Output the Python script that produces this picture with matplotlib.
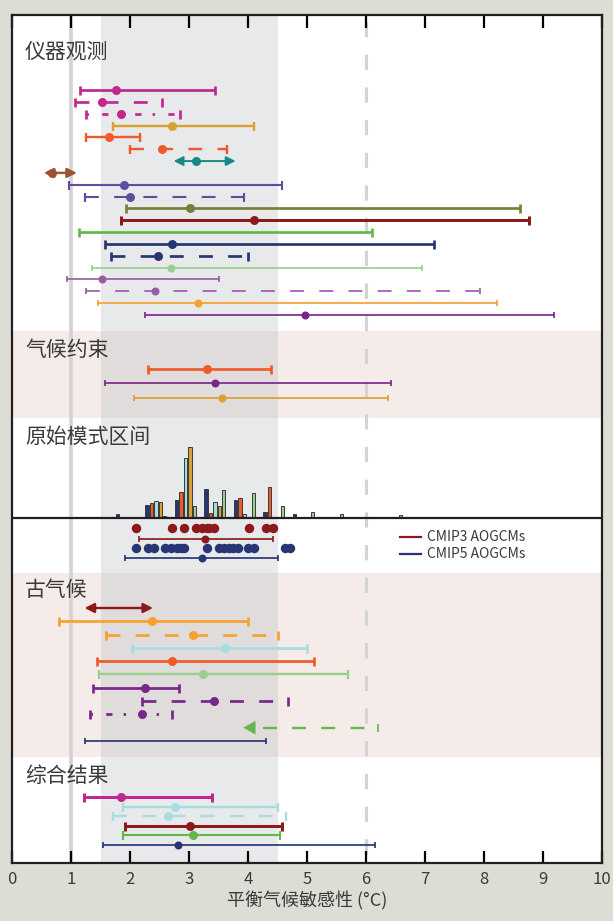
import numpy as np
import matplotlib.pyplot as plt

plt.rcParams['font.family'] = ['Noto Sans CJK SC', 'DejaVu Sans']

nan = np.nan

# 仪器观测
obs_lo   = [1.16, 1.06, 1.25, 1.72, 1.25, 2.00, 2.74, 0.54, 0.96, 1.24, 1.93, 1.84, 1.14, 1.57, 1.68, 1.36, 0.94, 1.25, 1.45, 2.25]
obs_best = [1.77, 1.53, 1.85, 2.71, 1.65, 2.54, 3.12, 0.68, 1.90, 2.00, 3.02, 4.10, nan,  2.72, 2.47, 2.69, 1.53, 2.42, 3.16, 4.97]
obs_hi   = [3.44, 2.54, 2.84, 4.10, 2.17, 3.64, 3.79, 1.10, 4.57, 3.93, 8.61, 8.76, 6.10, 7.16, 4.00, 6.95, 3.51, 7.93, 8.22, 9.19]

# 气候约束
cons_lo   = [2.30, 1.57, 2.06]
cons_best = [3.30, 3.44, 3.56]
cons_hi   = [4.39, 6.43, 6.38]

# 原始模式区间 (histogram, relative frequency)
hist_bins = [1.5, 2.0, 2.5, 3.0, 3.5, 4.0, 4.5, 5.0, 5.5, 6.0, 6.5, 7.0, 7.5, 8.0, 8.5]
hist_a = [0.8, 4.4, 13, 18.4, 29, 17.7, 6, 4, 1, 1, 0.6, 0.8, 1, 1, 0]
hist_b = [0, 0, 15.4, 25.7, 5, 20.4, 31, 0, 0, 0, 0, 0, 0, 0, 0]
hist_c = [0, 0.8, 17, 60, 16.4, 4.4, 0, 0, 0, 0, 0, 0, 0, 0, 0]
hist_d = [0, 0, 15.7, 71, 12, 0, 0, 0, 0, 0, 0, 0, 0, 0, 0]
hist_e = [0, 0, 2, 11.7, 27.7, 25.4, 12.4, 6, 4.4, 1.3, 2.7, 1, 1, 0, 1]

# CMIP3 / CMIP5 模式
cmip3_ecs = [2.11, 2.71, 2.92, 3.12, 3.22, 3.30, 3.34, 3.42, 4.02, 4.31, 4.42]
cmip3_range = [2.16, 3.27, 4.42]
cmip5_ecs = [2.11, 2.31, 2.41, 2.60, 2.69, 2.79, 2.86, 2.92, 3.31, 3.51, 3.60,
             3.68, 3.75, 3.83, 4.00, 4.11, 4.62, 4.71]
cmip5_range = [1.92, 3.22, 4.51]

# 古气候
paleo_lo   = [1.23, 0.79, 1.59, 2.03, 1.44, 1.47, 1.37, 2.21, 1.33, 3.92, 1.23]
paleo_best = [nan,  2.37, 3.06, 3.61, 2.71, 3.24, 2.26, 3.42, 2.20, nan,  nan]
paleo_hi   = [2.39, 4.00, 4.51, 5.00, 5.12, 5.69, 2.83, 4.67, 2.72, 6.20, 4.31]

# 综合结果
comb_lo   = [1.22, 1.88, 1.72, 1.91, 1.88, 1.55]
comb_best = [1.85, 2.77, 2.65, 3.02, 3.06, 2.82]
comb_hi   = [3.39, 4.51, 4.65, 4.57, 4.55, 6.16]

# colours
MAG = '#c4268f'
GOLD = '#d9a033'
ORED = '#f05a28'
TEAL = '#168a87'
BROWN = '#9c5233'
SLATE = '#5d4e9e'
OLIVE = '#7a7e35'
DRED = '#8c1a1c'
GREEN = '#62b84b'
NAVY = '#263574'
LGREEN = '#97cf8c'
LPURP = '#9b5aa5'
ORANGE = '#f8a12f'
PURP = '#78268a'
LBLUE = '#a6dde0'
TXT = '#3a3a3a'

obs_col = [MAG, MAG, MAG, GOLD, ORED, ORED, TEAL, BROWN, SLATE, SLATE, OLIVE, DRED,
           GREEN, NAVY, NAVY, LGREEN, LPURP, LPURP, ORANGE, PURP]
obs_sty = ['-', 'dash', 'dashdot', '-', '-', 'dash', 'both', 'both', '-', 'dash', '-', '-',
           '-', '-', 'dash', '-', '-', 'dash', '-', '-']
obs_lw = [2.7, 2.7, 2.7, 2.4, 2.4, 2.4, 2.4, 3.0, 2.1, 2.1, 2.7, 3.0,
          2.7, 2.7, 2.7, 1.7, 1.7, 1.7, 1.7, 1.7]

cons_col = [ORED, PURP, GOLD]
cons_sty = ['-', '-', '-']
cons_lw = [2.7, 1.7, 1.7]

paleo_col = [DRED, ORANGE, ORANGE, LBLUE, ORED, LGREEN, PURP, PURP, PURP, GREEN, NAVY]
paleo_sty = ['both', '-', 'dash', '-', '-', '-', '-', 'dash', 'dashdot', 'left', '-']
paleo_lw = [3.0, 2.7, 2.7, 2.7, 2.7, 2.4, 2.7, 2.7, 2.7, 2.4, 1.7]

comb_col = [MAG, LBLUE, LBLUE, DRED, GREEN, NAVY]
comb_sty = ['-', '-', 'dash', '-', '-', '-']
comb_lw = [3.0, 2.4, 2.4, 3.0, 2.1, 1.7]

fig = plt.figure(figsize=(6.13, 9.21), dpi=100)
fig.patch.set_facecolor('#dcded6')
ax = fig.add_axes([12 / 613, 1 - 863 / 921, 590 / 613, 848 / 921])
ax.set_xlim(0, 10)
ax.set_ylim(863, 15)   # y in layout units, top to bottom

# background bands
ax.axhspan(331, 418, color='#f5ece9', lw=0, zorder=0)
ax.axhspan(573, 757, color='#f5ece9', lw=0, zorder=0)
ax.axvspan(1.5, 4.5, color='#b6b9c0', alpha=0.3, lw=0, zorder=0.5)
ax.plot([1, 1], [15, 863], color='#d3d3d3', lw=2.6, zorder=1)
ax.plot([6, 6], [15, 863], color='#d3d3d3', lw=2.2, zorder=1,
        ls=(8.6, (5, 5.7)), dash_capstyle='butt')


def pattern(style, lw):
    if style == 'dash':
        return (0, (10 / lw, 11 / lw))
    if style == 'dashdot':
        return (0, (1.8 / lw, 9.5 / lw, 4.5 / lw, 8 / lw))
    return '-'


def draw_range(y, lo, best, hi, color, style, lw_px):
    lw = lw_px * 0.72
    big = lw_px > 2
    cap = (9 if big else 6.5) * 0.72
    ms = (9 if big else 8) * 0.72
    if style == 'both':
        ax.annotate('', xy=(hi, y), xytext=(lo, y), zorder=3,
                    arrowprops=dict(arrowstyle='<|-|>,head_length=0.8,head_width=0.4',
                                    mutation_scale=7, color=color, lw=lw * 0.8,
                                    shrinkA=0, shrinkB=0))
    elif style == 'left':
        ax.plot([lo + 0.34, hi], [y, y], color=color, lw=lw, ls=pattern('dash', lw),
                dash_capstyle='butt', zorder=3)
        ax.plot([hi], [y], ls='none', marker='|', ms=cap * 0.8, mew=lw * 0.7, color=color, zorder=3)
        ax.annotate('', xy=(lo, y), xytext=(lo + 0.2, y), zorder=3,
                    arrowprops=dict(arrowstyle='-|>,head_length=1.0,head_width=0.55',
                                    mutation_scale=8, color=color, lw=0.5,
                                    shrinkA=0, shrinkB=0))
    else:
        ax.plot([lo, hi], [y, y], color=color, lw=lw, ls=pattern(style, lw),
                solid_capstyle='butt', dash_capstyle='butt', zorder=3)
        ax.plot([lo, hi], [y, y], ls='none', marker='|', ms=cap, mew=lw, color=color, zorder=3)
    if not np.isnan(best):
        ax.plot([best], [y], 'o', ms=ms, color=color, mew=0, zorder=4)


def draw_section(ys, lo, best, hi, cols, stys, lws):
    for i in range(len(ys)):
        draw_range(ys[i], lo[i], best[i], hi[i], cols[i], stys[i], lws[i])


draw_section(np.linspace(90, 315, len(obs_lo)), obs_lo, obs_best, obs_hi, obs_col, obs_sty, obs_lw)
draw_section(np.linspace(369, 398, len(cons_lo)), cons_lo, cons_best, cons_hi, cons_col, cons_sty, cons_lw)
draw_section(np.linspace(608, 741, len(paleo_lo)), paleo_lo, paleo_best, paleo_hi, paleo_col, paleo_sty, paleo_lw)
draw_section(np.linspace(797, 845, len(comb_lo)), comb_lo, comb_best, comb_hi, comb_col, comb_sty, comb_lw)

# histogram
base = 518
offsets = [-0.21, -0.135, -0.06, 0.015, 0.09]
hist_cols = [NAVY, ORED, LBLUE, GOLD, LGREEN]
bins = np.array(hist_bins)
for off, h, c in zip(offsets, [hist_a, hist_b, hist_c, hist_d, hist_e], hist_cols):
    h = np.array(h, dtype=float)
    m = h > 0
    ax.bar(bins[m] + off, -h[m], bottom=base, width=0.055, color=c,
           edgecolor='#3a3a3a', lw=0.7, zorder=2)
ax.axhline(base, color='#231f20', lw=1.6, zorder=5)

# CMIP dots and ranges
ax.plot(cmip3_ecs, [528] * len(cmip3_ecs), 'o', ms=6.8, color=DRED, mew=0, zorder=4)
ax.plot(cmip5_ecs, [548] * len(cmip5_ecs), 'o', ms=6.8, color=NAVY, mew=0, zorder=4)
draw_range(539, cmip3_range[0], cmip3_range[1], cmip3_range[2], DRED, '-', 1.7)
draw_range(558, cmip5_range[0], cmip5_range[1], cmip5_range[2], NAVY, '-', 1.7)

# legend
ax.plot([6.57, 6.94], [537, 537], color=DRED, lw=1.6)
ax.plot([6.57, 6.94], [554, 554], color=NAVY, lw=1.6)
ax.text(7.04, 537, 'CMIP3 AOGCMs', fontsize=10, color=TXT, va='center', ha='left')
ax.text(7.04, 554, 'CMIP5 AOGCMs', fontsize=10, color=TXT, va='center', ha='left')

# section labels
for ty, label in [(52, '仪器观测'), (350, '气候约束'), (437, '原始模式区间'),
                  (590, '古气候'), (776, '综合结果')]:
    ax.text(0.22, ty, label, fontsize=15, color=TXT, va='center', ha='left', zorder=6)

ax.set_xticks(range(11))
ax.set_yticks([])
ax.tick_params(axis='x', direction='in', top=True, length=9, width=1.6,
               labelsize=12, labelcolor=TXT, pad=6)
for s in ax.spines.values():
    s.set_linewidth(1.6)
    s.set_color('#231f20')
ax.set_xlabel('平衡气候敏感性 (°C)', fontsize=13, color=TXT, labelpad=2)

fig.savefig('out.png', dpi=100, facecolor=fig.get_facecolor())
